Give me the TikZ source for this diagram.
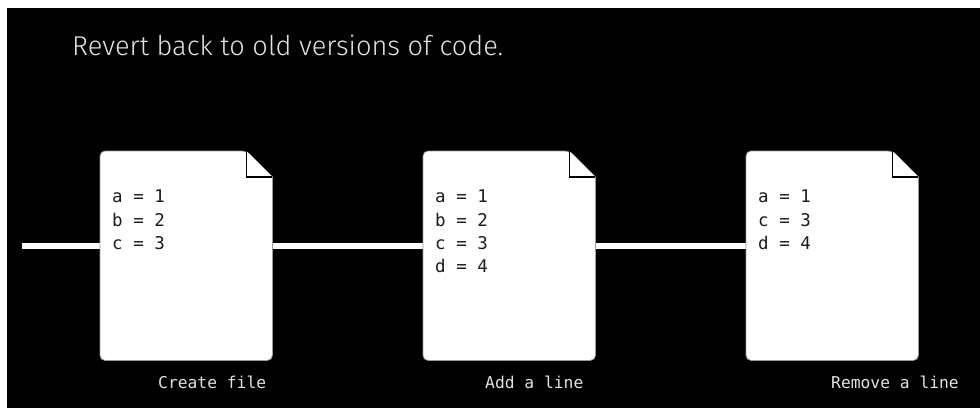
\documentclass[tikz,border=0pt]{standalone}
\usepackage{fontspec}
\setmonofont{DejaVu Sans Mono}
\newfontfamily\titlefont{Fira Sans Light}
\usetikzlibrary{calc}

\definecolor{ink}{HTML}{1C1C1C}
\definecolor{labelgray}{HTML}{E2E2E2}
\definecolor{edgegray}{HTML}{9A9A9A}

\tikzset{
  pagebox/.style={minimum width=172pt, minimum height=209pt, inner sep=0pt, anchor=north west},
  pagebody/.style={fill=white, draw=edgegray, line width=0.8pt},
  foldline/.style={draw=black, line width=1.8pt, line join=miter},
  codetext/.style={font=\ttfamily\fontsize{17.5}{23.3}\selectfont, text=ink, align=left,
                   anchor=north west, inner sep=0pt},
  caption/.style={font=\ttfamily\fontsize{16.3}{20}\selectfont, text=labelgray,
                  anchor=base west, inner sep=0pt},
  timeline/.style={draw=white, line width=6pt},
}

% a sheet of paper with a folded top-right corner, drawn round node #1
\newcommand\drawsheet[1]{%
  \filldraw[pagebody] (#1.east) [rounded corners=5pt] -- (#1.south east) -- (#1.south west)
     -- (#1.north west) -- ([xshift=-26pt]#1.north east) [sharp corners]
     -- ([yshift=-26pt]#1.north east) -- cycle;
  \fill[white] ([xshift=-26pt]#1.north east) -- ([xshift=-26pt,yshift=-26pt]#1.north east)
     -- ([yshift=-26pt]#1.north east) -- cycle;
  \draw[foldline] ([xshift=-26pt]#1.north east) -- ([xshift=-26pt,yshift=-26pt]#1.north east)
     -- ([yshift=-26pt]#1.north east);
}

\begin{document}
\begin{tikzpicture}[x=1pt, y=-1pt]
  % canvas
  \fill[white] (0,0) rectangle (980,408);
  \fill[black] (7,8) rectangle (980,408);
  \useasboundingbox (0,0) rectangle (980,408);

  % title
  \node[font=\titlefont\fontsize{27.2}{32}\selectfont, text=labelgray, anchor=base west,
        inner sep=0pt] (title) at (72,55) {Revert back to old versions of code.};

  % the three versions of the file
  \node[pagebox] (d1) at (100,151) {};
  \node[pagebox] (d2) at (423,151) {};
  \node[pagebox] (d3) at (746,151) {};

  % history line joining the versions
  \coordinate (start) at (22,246);
  \draw[timeline] (start) -- (start -| d1.west);
  \draw[timeline] (d1.east |- start) -- (d2.west |- start);
  \draw[timeline] (d2.east |- start) -- (d3.west |- start);

  \drawsheet{d1}
  \drawsheet{d2}
  \drawsheet{d3}

  % file contents
  \node[codetext] (c1) at ([xshift=12pt,yshift=-39pt]d1.north west) {a = 1\\b = 2\\c = 3};
  \node[codetext] (c2) at ([xshift=12pt,yshift=-39pt]d2.north west) {a = 1\\b = 2\\c = 3\\d = 4};
  \node[codetext] (c3) at ([xshift=12pt,yshift=-39pt]d3.north west) {a = 1\\c = 3\\d = 4};

  % captions
  \node[caption] (l1) at (158,388) {Create file};
  \node[caption] (l2) at (485,388) {Add a line};
  \node[caption] (l3) at (831,388) {Remove a line};
\end{tikzpicture}
\end{document}
